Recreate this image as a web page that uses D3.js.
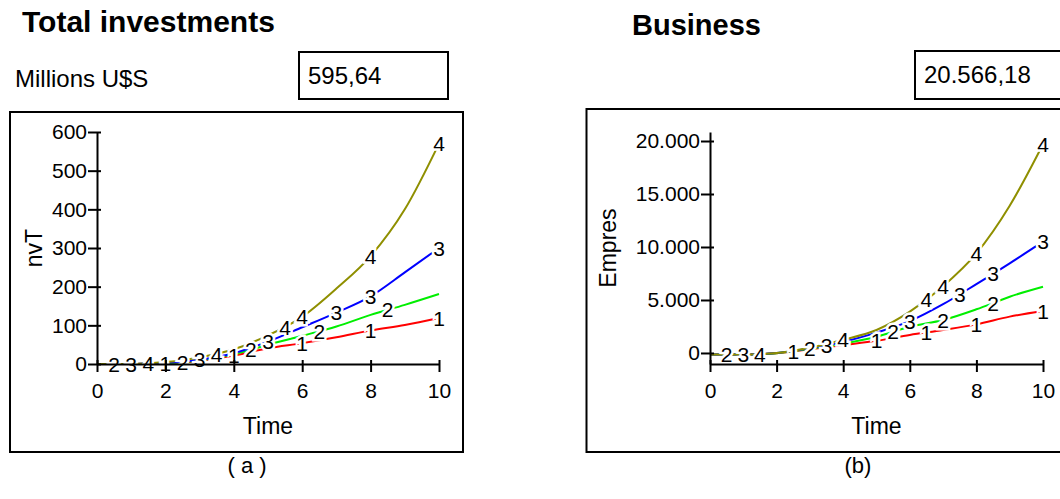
<!DOCTYPE html>
<html>
<head>
<meta charset="utf-8">
<script src="https://cdn.jsdelivr.net/npm/d3@7"></script>
<style>
  body { margin:0; background:#fff; }
  svg text { font-family: "Liberation Sans", Arial, sans-serif; fill:#000; }
</style>
</head>
<body>
<div id="chart"></div>
<script>
// time axis (years)
const times = [0, 1, 2, 3, 4, 5, 6, 7, 8, 9, 10];

// (a) Total investments, nvT, millions U$S - runs 1..4
const invest1 = [0, 0, 2, 8, 22, 41, 54, 69, 87, 101, 119];
const invest2 = [0, 0, 2, 9, 25, 50, 73, 97, 127, 153, 181];
const invest3 = [0, 0, 3, 11, 28, 58, 95, 133, 175, 237, 300];
const invest4 = [0, 0, 5, 17, 38, 74, 122, 195, 279, 400, 570];
const investTicks = [0, 100, 200, 300, 400, 500, 600];
// where the run numbers sit on each line
const investLabelAt = [[2, 4, 6, 8, 10], [0.5, 2.5, 4.5, 6.5, 8.5], [1, 3, 5, 7, 8, 10], [1.5, 3.5, 5.5, 6, 8, 10]];

// (b) Business, Empres - runs 1..4
const empres1 = [-150, -150, -30, 350, 750, 1150, 1700, 2170, 2700, 3430, 3960];
const empres2 = [-150, -150, -20, 400, 900, 1540, 2480, 3110, 4120, 5310, 6250];
const empres3 = [-150, -150, -10, 450, 1050, 1920, 3000, 4600, 6500, 8460, 10500];
const empres4 = [-150, -150, 0, 500, 1250, 2170, 3900, 6300, 9400, 13900, 19700];
const empresTicks = [0, 5000, 10000, 15000, 20000];
const empresLabelAt = [[2.5, 5, 6.5, 8, 10], [0.5, 3, 5.5, 7, 8.5], [1, 3.5, 6, 7.5, 8.5, 10], [1.5, 4, 6.5, 7, 8, 10]];

const xTicks = [0, 2, 4, 6, 8, 10];
const runNames = ["1", "2", "3", "4"];
const runColors = ["#ff0000", "#00ee00", "#0000ff", "#8f8f00"];

const esLocale = d3.formatLocale({decimal: ",", thousands: ".", grouping: [3], currency: ["", ""]});

const W = 1060, H = 499;
const svg = d3.select("#chart").append("svg")
  .attr("width", W).attr("height", H);

function pointAtX(node, px) {
  let lo = 0, hi = node.getTotalLength();
  for (let k = 0; k < 40; k++) {
    const mid = (lo + hi) / 2;
    if (node.getPointAtLength(mid).x < px) lo = mid; else hi = mid;
  }
  return node.getPointAtLength(lo);
}

function drawPanel(cfg) {
  // frame
  svg.append("rect")
    .attr("x", cfg.frame[0]).attr("y", cfg.frame[1])
    .attr("width", cfg.frame[2]).attr("height", cfg.frame[3])
    .attr("fill", "none").attr("stroke", "#000").attr("stroke-width", 2);

  const x = d3.scaleLinear().domain([0, 10]).range([cfg.left, cfg.right]);
  const y = d3.scaleLinear().domain(cfg.yDomain).range([364, 132]);

  const line = d3.line()
    .x((d, i) => x(times[i]))
    .y(d => y(d))
    .curve(d3.curveMonotoneX);

  const paths = cfg.runs.map((run, r) =>
    svg.append("path")
      .attr("d", line(run))
      .attr("fill", "none")
      .attr("stroke", runColors[r])
      .attr("stroke-width", 2));

  // run numbers with a white halo to break the line
  cfg.labelAt.forEach((ts, r) => {
    const node = paths[r].node();
    ts.forEach(t => {
      const p = pointAtX(node, x(t));
      svg.append("text")
        .attr("x", p.x).attr("y", p.y)
        .attr("dy", "0.36em")
        .attr("text-anchor", "middle")
        .attr("font-size", 21)
        .attr("stroke", "#fff").attr("stroke-width", 5)
        .attr("paint-order", "stroke")
        .text(runNames[r]);
    });
  });

  // axes
  const yAxis = svg.append("g")
    .attr("transform", `translate(${cfg.left},0)`)
    .call(d3.axisLeft(y).tickValues(cfg.yTicks).tickFormat(cfg.yFormat)
      .tickSize(9).tickSizeOuter(0).tickPadding(1));
  yAxis.selectAll(".tick").append("line").attr("x2", 4).attr("stroke", "#000");

  const xAxis = svg.append("g")
    .attr("transform", "translate(0,364)")
    .call(d3.axisBottom(x).tickValues(xTicks).tickSize(8).tickSizeOuter(0).tickPadding(11));
  xAxis.selectAll(".tick").append("line").attr("y2", -4).attr("stroke", "#000");

  [yAxis, xAxis].forEach(a => {
    a.select(".domain").attr("stroke-width", 2);
    a.selectAll(".tick line").attr("stroke-width", 2);
    a.selectAll("text").attr("font-size", 21).attr("fill", "#000")
      .style("font-family", "'Liberation Sans', Arial, sans-serif");
  });

  svg.append("text")
    .attr("x", (cfg.left + cfg.right) / 2).attr("y", 434)
    .attr("text-anchor", "middle").attr("font-size", 23)
    .text("Time");

  svg.append("text")
    .attr("transform", `translate(${cfg.yTitleX},248) rotate(-90)`)
    .attr("text-anchor", "middle").attr("font-size", 23)
    .text(cfg.yTitle);

  // header
  svg.append("text")
    .attr("x", cfg.titleX).attr("y", cfg.titleY)
    .attr("font-size", cfg.titleSize).attr("font-weight", "bold")
    .text(cfg.title);

  svg.append("rect")
    .attr("x", cfg.box[0]).attr("y", cfg.box[1])
    .attr("width", cfg.box[2]).attr("height", cfg.box[3])
    .attr("fill", "none").attr("stroke", "#000").attr("stroke-width", 2);
  svg.append("text")
    .attr("x", cfg.box[0] + 9).attr("y", cfg.box[1] + 32)
    .attr("font-size", 24)
    .text(cfg.boxValue);

  svg.append("text")
    .attr("x", cfg.captionX).attr("y", 473)
    .attr("text-anchor", "middle").attr("font-size", 22)
    .text(cfg.caption);
}

drawPanel({
  frame: [10, 112, 453, 340],
  left: 97, right: 439,
  yDomain: [0, 600], yTicks: investTicks, yFormat: d3.format("d"),
  runs: [invest1, invest2, invest3, invest4],
  labelAt: investLabelAt,
  yTitle: "nvT", yTitleX: 42,
  title: "Total investments", titleX: 22, titleY: 32, titleSize: 30,
  box: [299, 52, 149, 47], boxValue: "595,64",
  caption: "( a )", captionX: 247
});

drawPanel({
  frame: [586.5, 109, 500, 343],
  left: 710, right: 1043,
  yDomain: [-1040, 20850], yTicks: empresTicks, yFormat: esLocale.format(",d"),
  runs: [empres1, empres2, empres3, empres4],
  labelAt: empresLabelAt,
  yTitle: "Empres", yTitleX: 616,
  title: "Business", titleX: 632, titleY: 35, titleSize: 29,
  box: [915, 51, 160, 48], boxValue: "20.566,18",
  caption: "(b)", captionX: 858
});

svg.append("text")
  .attr("x", 15).attr("y", 87)
  .attr("font-size", 24)
  .text("Millions U$S");
</script>
</body>
</html>
